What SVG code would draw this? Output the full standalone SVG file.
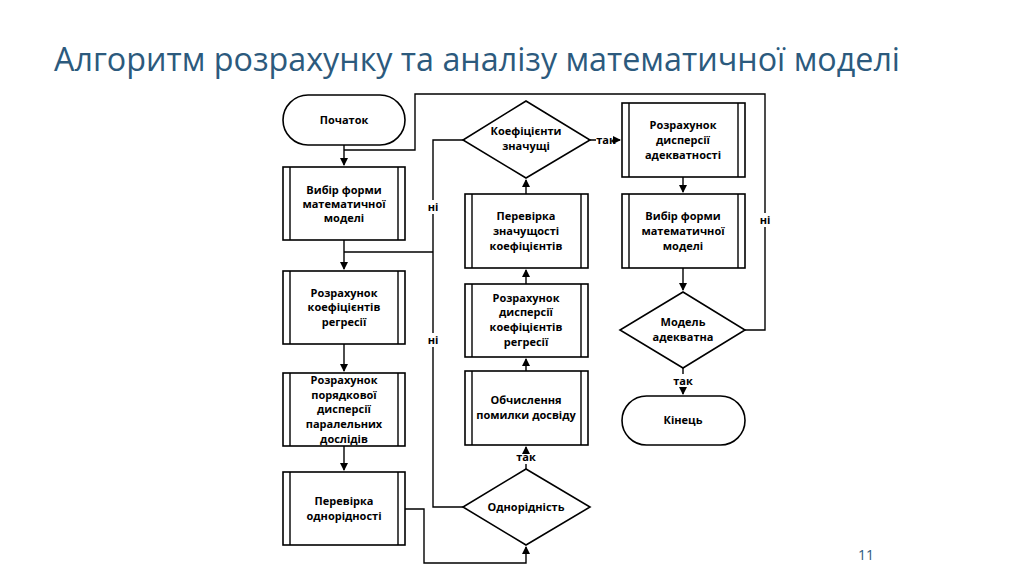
<svg xmlns="http://www.w3.org/2000/svg" width="1024" height="574" viewBox="0 0 1024 574">
<defs>
<marker id="ar" markerWidth="8" markerHeight="8" refX="7" refY="4" orient="auto" markerUnits="userSpaceOnUse"><path d="M0,0 L8,4 L0,8 z" fill="#000"/></marker>
</defs>
<style>
.s{fill:#fff;stroke:#000;stroke-width:1.6}
.l{fill:none;stroke:#000;stroke-width:1.4}
.c{stroke:#000;stroke-width:1.4;fill:none}
.bg{fill:#fff}
text{font-family:"Open Sans","Liberation Sans",sans-serif;font-weight:bold;font-size:11px;text-anchor:middle;fill:#000}
.t{font-family:"Open Sans","Liberation Sans",sans-serif;font-weight:normal;font-size:32px;text-anchor:start;fill:#2c5a7d}
</style>
<rect width="1024" height="574" fill="#fff"/>
<text class="t" x="54" y="71" textLength="846" lengthAdjust="spacingAndGlyphs">Алгоритм розрахунку та аналізу математичної моделі</text>
<text x="866" y="560" style="font-weight:normal;font-size:14px;fill:#2c5a7d">11</text>
<g id="connectors">
<path class="c" d="M344,145 V165" marker-end="url(#ar)"/>
<path class="c" d="M745,330 H765 V94 H415 V150 H344"/>
<path class="c" d="M344,240 V269" marker-end="url(#ar)"/>
<path class="c" d="M344,252 H433"/>
<path class="c" d="M463,507 H433 V140 H463"/>
<path class="c" d="M344,344 V371" marker-end="url(#ar)"/>
<path class="c" d="M344,446 V470" marker-end="url(#ar)"/>
<path class="c" d="M405,509 H424 V563 H526 V547" marker-end="url(#ar)"/>
<path class="c" d="M526,469 V464 M526,451 V447" marker-end="url(#ar)"/>
<path class="c" d="M526,371 V359" marker-end="url(#ar)"/>
<path class="c" d="M526,284 V270" marker-end="url(#ar)"/>
<path class="c" d="M526,194 V180" marker-end="url(#ar)"/>
<path class="c" d="M590,140 H596 M616,140 H620" marker-end="url(#ar)"/>
<path class="c" d="M683,177 V192" marker-end="url(#ar)"/>
<path class="c" d="M683,268 V290" marker-end="url(#ar)"/>
<path class="c" d="M683,368 V374 M683,387 V394" marker-end="url(#ar)"/>
<rect class="bg" x="427" y="200" width="12" height="14"/>
<rect class="bg" x="427" y="333" width="12" height="14"/>
<rect class="bg" x="759" y="213" width="12" height="14"/>
<text x="433" y="211">ні</text>
<text x="433" y="344">ні</text>
<text x="765" y="224">ні</text>
<text x="526" y="461">так</text>
<text x="606" y="144">так</text>
<text x="683" y="385">так</text>
</g>
<g id="start"><rect class="s" x="283" y="95" width="122" height="50" rx="25"/><text x="344" y="124">Початок</text></g>
<g id="b1"><rect class="s" x="283" y="167" width="122" height="73"/><path class="l" d="M290,167V240M398,167V240"/><text x="344" y="194">Вибір форми</text><text x="344" y="208">математичної</text><text x="344" y="222">моделі</text></g>
<g id="b2"><rect class="s" x="283" y="271" width="122" height="73"/><path class="l" d="M290,271V344M398,271V344"/><text x="344" y="297">Розрахунок</text><text x="344" y="311">коефіцієнтів</text><text x="344" y="326">регресії</text></g>
<g id="b3"><rect class="s" x="283" y="373" width="122" height="73"/><path class="l" d="M290,373V446M398,373V446"/><text x="344" y="384">Розрахунок</text><text x="344" y="399">порядкової</text><text x="344" y="413">дисперсії</text><text x="344" y="428">паралельних</text><text x="344" y="443">дослідів</text></g>
<g id="b4"><rect class="s" x="283" y="472" width="122" height="73"/><path class="l" d="M290,472V545M398,472V545"/><text x="344" y="505">Перевірка</text><text x="344" y="520">однорідності</text></g>
<g id="d1"><polygon class="s" points="526,101 590,140 526,178 463,140"/><text x="526" y="135">Коефіцієнти</text><text x="526" y="150">значущі</text></g>
<g id="m1"><rect class="s" x="465" y="194" width="123" height="74"/><path class="l" d="M472,194V268M581,194V268"/><text x="526" y="220">Перевірка</text><text x="526" y="235">значущості</text><text x="526" y="250">коефіцієнтів</text></g>
<g id="m2"><rect class="s" x="465" y="284" width="123" height="73"/><path class="l" d="M472,284V357M581,284V357"/><text x="526" y="302">Розрахунок</text><text x="526" y="316">дисперсії</text><text x="526" y="331">коефіцієнтів</text><text x="526" y="346">регресії</text></g>
<g id="m3"><rect class="s" x="465" y="371" width="123" height="74"/><path class="l" d="M472,371V445M581,371V445"/><text x="526" y="404">Обчислення</text><text x="526" y="419">помилки досвіду</text></g>
<g id="d2"><polygon class="s" points="526,469 590,507 526,545 463,507"/><text x="526" y="511">Однорідність</text></g>
<g id="r1"><rect class="s" x="622" y="103" width="123" height="74"/><path class="l" d="M629,103V177M738,103V177"/><text x="683" y="129">Розрахунок</text><text x="683" y="144">дисперсії</text><text x="683" y="159">адекватності</text></g>
<g id="r2"><rect class="s" x="622" y="194" width="123" height="74"/><path class="l" d="M629,194V268M738,194V268"/><text x="683" y="220">Вибір форми</text><text x="683" y="235">математичної</text><text x="683" y="250">моделі</text></g>
<g id="d3"><polygon class="s" points="683,292 745,330 683,368 620,330"/><text x="683" y="326">Модель</text><text x="683" y="341">адекватна</text></g>
<g id="end"><rect class="s" x="622" y="396" width="123" height="49" rx="24.5"/><text x="683" y="424">Кінець</text></g>
</svg>
